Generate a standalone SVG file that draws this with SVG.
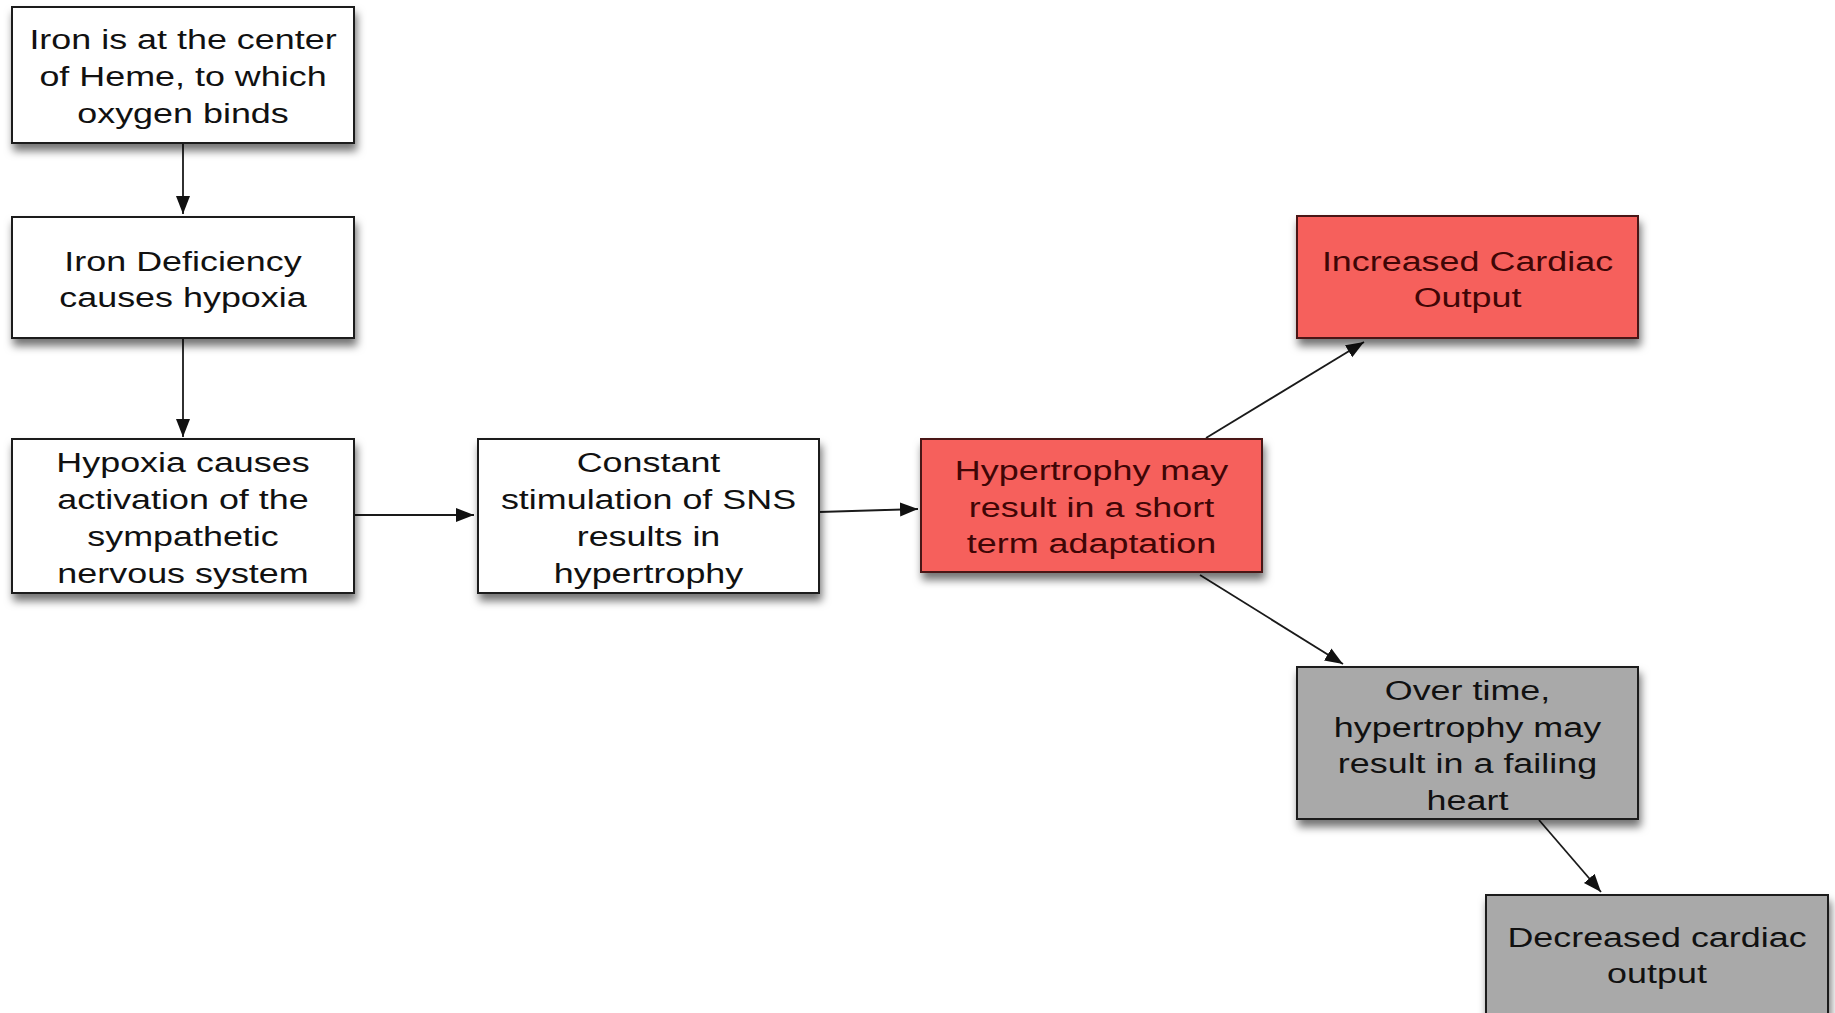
<svg xmlns="http://www.w3.org/2000/svg" width="1835" height="1013" viewBox="0 0 1835 1013">
<defs>
<filter id="sh" x="-10%" y="-10%" width="125%" height="135%">
<feDropShadow dx="2" dy="7" stdDeviation="4" flood-color="#000" flood-opacity="0.55"/>
</filter>
<marker id="ah" markerUnits="userSpaceOnUse" markerWidth="20" markerHeight="16" refX="18" refY="7" orient="auto" viewBox="0 0 20 14">
<path d="M0,0 L18,7 L0,14 z" fill="#111"/>
</marker>
<style>
.box{stroke-width:2}
.w{fill:#ffffff;stroke:#1a1a1a}
.r{fill:#f6605c;stroke:#4a1414}
.g{fill:#a9a9a9;stroke:#1a1a1a}
text{font-family:"Liberation Sans",Arial,Helvetica,sans-serif;font-size:27px;text-anchor:middle}
.tw{fill:#111}
.tr{fill:#3f0606}
.tg{fill:#111}
.c{fill:none;stroke:#1a1a1a;stroke-width:1.8;marker-end:url(#ah)}
</style>
</defs>
<rect width="1835" height="1013" fill="#ffffff"/>
<g id="connectors">
<line class="c" x1="183" y1="143" x2="183" y2="214"/>
<line class="c" x1="183" y1="338" x2="183" y2="437"/>
<line class="c" x1="355" y1="515" x2="474" y2="515"/>
<line class="c" x1="819" y1="512" x2="918" y2="509"/>
<line class="c" x1="1206" y1="438" x2="1364" y2="342"/>
<line class="c" x1="1200" y1="575" x2="1343" y2="664"/>
<line class="c" x1="1539" y1="820" x2="1601" y2="892"/>
</g>
<g id="n1">
<rect class="box w" x="12" y="7" width="342" height="136" filter="url(#sh)"/>
<g transform="translate(183,0) scale(1.33,1)"><text class="tw" x="0" y="49">Iron is at the center</text><text class="tw" x="0" y="86">of Heme, to which</text><text class="tw" x="0" y="123">oxygen binds</text></g>
</g>
<g id="n2">
<rect class="box w" x="12" y="217" width="342" height="121" filter="url(#sh)"/>
<g transform="translate(183,0) scale(1.33,1)"><text class="tw" x="0" y="271">Iron Deficiency</text><text class="tw" x="0" y="307">causes hypoxia</text></g>
</g>
<g id="n3">
<rect class="box w" x="12" y="439" width="342" height="154" filter="url(#sh)"/>
<g transform="translate(183,0) scale(1.33,1)"><text class="tw" x="0" y="472">Hypoxia causes</text><text class="tw" x="0" y="509">activation of the</text><text class="tw" x="0" y="546">sympathetic</text><text class="tw" x="0" y="583">nervous system</text></g>
</g>
<g id="n4">
<rect class="box w" x="478" y="439" width="341" height="154" filter="url(#sh)"/>
<g transform="translate(648.5,0) scale(1.33,1)"><text class="tw" x="0" y="472">Constant</text><text class="tw" x="0" y="509">stimulation of SNS</text><text class="tw" x="0" y="546">results in</text><text class="tw" x="0" y="583">hypertrophy</text></g>
</g>
<g id="n5">
<rect class="box r" x="921" y="439" width="341" height="133" filter="url(#sh)"/>
<g transform="translate(1091.5,0) scale(1.33,1)"><text class="tr" x="0" y="480">Hypertrophy may</text><text class="tr" x="0" y="517">result in a short</text><text class="tr" x="0" y="553">term adaptation</text></g>
</g>
<g id="n6">
<rect class="box r" x="1297" y="216" width="341" height="122" filter="url(#sh)"/>
<g transform="translate(1467.5,0) scale(1.33,1)"><text class="tr" x="0" y="271">Increased Cardiac</text><text class="tr" x="0" y="307">Output</text></g>
</g>
<g id="n7">
<rect class="box g" x="1297" y="667" width="341" height="152" filter="url(#sh)"/>
<g transform="translate(1467.5,0) scale(1.33,1)"><text class="tg" x="0" y="700">Over time,</text><text class="tg" x="0" y="737">hypertrophy may</text><text class="tg" x="0" y="773">result in a failing</text><text class="tg" x="0" y="810">heart</text></g>
</g>
<g id="n8">
<rect class="box g" x="1486" y="895" width="342" height="122" filter="url(#sh)"/>
<g transform="translate(1657,0) scale(1.33,1)"><text class="tg" x="0" y="947">Decreased cardiac</text><text class="tg" x="0" y="983">output</text></g>
</g>
</svg>
